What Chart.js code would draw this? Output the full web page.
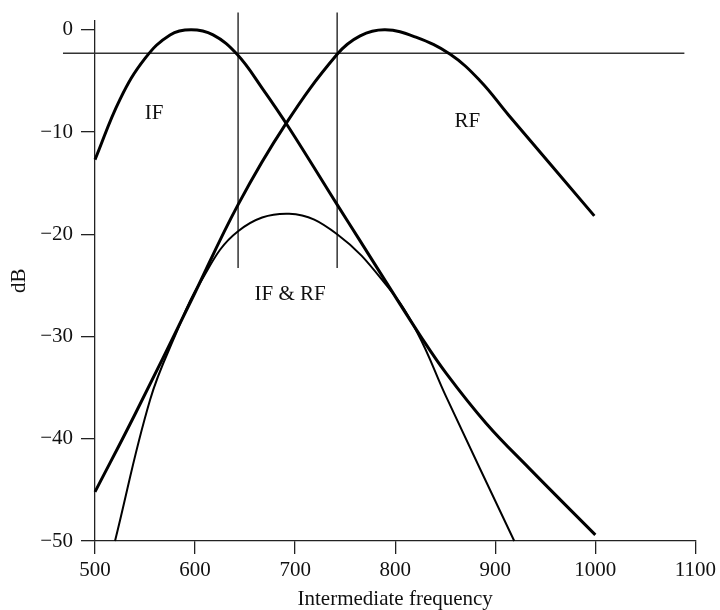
<!DOCTYPE html>
<html>
<head>
<meta charset="utf-8">
<script src="https://cdn.jsdelivr.net/npm/chart.js@4"></script>
<style>
    body { margin: 0; background: #fff; }
    #wrap { width: 720px; height: 610px; }
</style>
</head>
<body>
<div id="wrap"><canvas id="dbChart" width="720" height="610"></canvas></div>
<script>
// Curvas (frecuencia intermedia, dB)
const ifFreq = [500, 525, 550, 575, 596, 618, 642, 667, 694, 742, 764, 793, 825, 851, 891, 933, 1000];
const ifDb   = [-12.7, -6.8, -2.8, -0.5, 0.0, -0.5, -2.4, -5.7, -9.6, -17.1, -20.5, -25.0, -29.9, -33.6, -38.5, -42.8, -49.4];

const rfFreq = [500, 540, 596, 643, 690, 742, 765, 790, 820, 855, 885, 913, 999];
const rfDb   = [-45.2, -37.6, -26.5, -17.1, -9.3, -2.4, -0.6, 0.0, -0.7, -2.4, -5.0, -8.3, -18.2];

const sumFreq = [520, 555, 581, 604, 643, 694, 742, 793, 822, 851, 919];
const sumDb   = [-50, -36.2, -29.7, -24.9, -19.7, -18.0, -20.0, -25.2, -29.6, -35.9, -50];

// Líneas de referencia
const refLevel = -2.3;            // nivel horizontal (dB)
const refSpan = [468, 1089];      // extensión en frecuencia
const markerFreqs = [643, 742];   // líneas verticales
const markerSpan = [-23.3, 1.7];  // extensión en dB

// Ejes
const xTicks = [500, 600, 700, 800, 900, 1000, 1100];
const yTicks = [0, -10, -20, -30, -40, -50];

// Etiquetas de las curvas
const curveLabels = [
    { text: 'IF', x: 559, y: -8.2 },
    { text: 'RF', x: 872, y: -9.0 },
    { text: 'IF & RF', x: 695, y: -25.9 }
];

const SERIF = "'Liberation Serif', 'Times New Roman', serif";
const INK = '#111';
const FONT_SIZE = 21;

function toPoints(xs, ys) {
    return xs.map((x, i) => ({ x: x, y: ys[i] }));
}

function lineSet(points, width, color, tension) {
    return {
        data: points,
        borderColor: color,
        borderWidth: width,
        pointRadius: 0,
        fill: false,
        clip: false,
        tension: tension
    };
}

const datasets = [
    lineSet(toPoints(ifFreq, ifDb), 3, '#000', 0.4),
    lineSet(toPoints(rfFreq, rfDb), 3, '#000', 0.4),
    lineSet(toPoints(sumFreq, sumDb), 2, '#000', 0.4),
    lineSet(refSpan.map(f => ({ x: f, y: refLevel })), 1.5, '#333', 0)
];
markerFreqs.forEach(f => {
    datasets.push(lineSet(markerSpan.map(d => ({ x: f, y: d })), 1.5, '#333', 0));
});

// Plugin para escribir IF, RF, IF & RF sobre el gráfico
const curveLabelPlugin = {
    id: 'curveLabels',
    afterDatasetsDraw(chart) {
        const ctx = chart.ctx;
        const xs = chart.scales.x;
        const ys = chart.scales.y;
        ctx.save();
        ctx.font = FONT_SIZE + 'px ' + SERIF;
        ctx.fillStyle = INK;
        ctx.textAlign = 'center';
        ctx.textBaseline = 'middle';
        curveLabels.forEach(l => {
            ctx.fillText(l.text, xs.getPixelForValue(l.x), ys.getPixelForValue(l.y));
        });
        ctx.restore();
    }
};

function fmt(v) {
    return v < 0 ? '\u2212' + Math.abs(v) : String(v);
}

const chart = new Chart(document.getElementById('dbChart'), {
    type: 'line',
    data: { datasets: datasets },
    plugins: [curveLabelPlugin],
    options: {
        responsive: false,
        animation: false,
        devicePixelRatio: 1,
        layout: { padding: { top: 19, right: 22, left: 0, bottom: 0 } },
        plugins: {
            legend: { display: false },
            tooltip: { enabled: false }
        },
        scales: {
            x: {
                type: 'linear',
                min: 500,
                max: 1100,
                afterBuildTicks: s => { s.ticks = xTicks.map(v => ({ value: v })); },
                afterFit: s => { s.height = 69; },
                ticks: {
                    color: INK,
                    font: { family: SERIF, size: FONT_SIZE },
                    padding: 4,
                    maxRotation: 0,
                    callback: v => fmt(v)
                },
                grid: { drawOnChartArea: false, drawTicks: true, tickLength: 13, color: '#222', lineWidth: 1.3 },
                border: { display: true, color: '#222', width: 1.3 },
                title: {
                    display: true,
                    text: 'Intermediate frequency',
                    color: INK,
                    font: { family: SERIF, size: FONT_SIZE, lineHeight: 1.0 },
                    padding: { top: 0, bottom: 0 }
                }
            },
            y: {
                type: 'linear',
                min: -50,
                max: 0.9,
                afterBuildTicks: s => { s.ticks = yTicks.map(v => ({ value: v })); },
                afterFit: s => { s.width = 95; },
                ticks: {
                    color: INK,
                    font: { family: SERIF, size: FONT_SIZE },
                    padding: 8,
                    callback: v => fmt(v)
                },
                grid: { drawOnChartArea: false, drawTicks: true, tickLength: 14, color: '#222', lineWidth: 1.3 },
                border: { display: true, color: '#222', width: 1.3 },
                title: {
                    display: true,
                    text: 'dB',
                    color: INK,
                    font: { family: SERIF, size: FONT_SIZE, lineHeight: 1.2 },
                    padding: { top: 7, bottom: 0 }
                }
            }
        }
    }
});
</script>
</body>
</html>
